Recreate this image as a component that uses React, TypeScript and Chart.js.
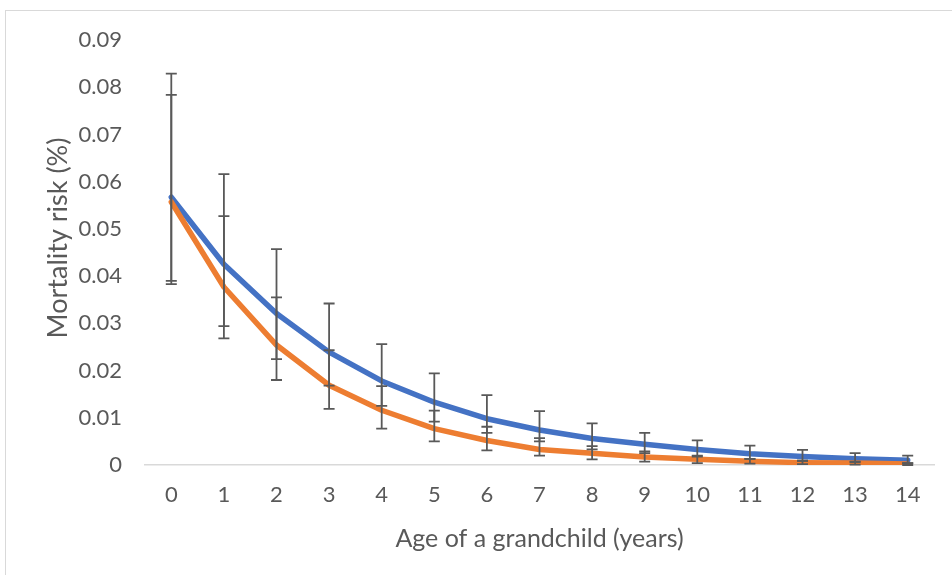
import React, { useEffect, useRef } from "react";
import { Chart, registerables } from "chart.js";

Chart.register(...registerables);

const ages = ["0", "1", "2", "3", "4", "5", "6", "7", "8", "9", "10", "11", "12", "13", "14"];

const blueValues = [0.0567, 0.0425, 0.0321, 0.0239, 0.0178, 0.0133, 0.0098, 0.0074, 0.0056, 0.0044, 0.0033, 0.0024, 0.0018, 0.0013, 0.001];
const blueUpper = [0.0829, 0.0616, 0.0457, 0.0342, 0.0256, 0.0194, 0.0148, 0.0114, 0.0088, 0.0068, 0.0052, 0.0041, 0.0032, 0.0025, 0.002];
const blueLower = [0.039, 0.0294, 0.0224, 0.0168, 0.0125, 0.0092, 0.0068, 0.005, 0.0033, 0.0025, 0.0018, 0.0013, 0.0009, 0.0007, 0.0004];

const orangeValues = [0.0557, 0.0377, 0.0254, 0.0169, 0.0116, 0.0077, 0.0052, 0.0033, 0.0025, 0.0017, 0.0012, 0.0008, 0.0005, 0.0004, 0.0002];
const orangeUpper = [0.0784, 0.0527, 0.0355, 0.0243, 0.0167, 0.0115, 0.0081, 0.0057, 0.004, 0.0029, 0.002, 0.0013, 0.0009, 0.0006, 0.0004];
const orangeLower = [0.0383, 0.0268, 0.018, 0.0119, 0.0077, 0.005, 0.0031, 0.002, 0.0012, 0.0007, 0.0004, 0.0003, 0.0002, 0.0001, 0.0];

const yTicks = [0, 0.01, 0.02, 0.03, 0.04, 0.05, 0.06, 0.07, 0.08, 0.09];

const FONT = "Lato, 'Open Sans', sans-serif";
const TEXT = "#595959";

const errorBarPlugin = {
  id: "errorBars",
  afterDatasetsDraw(chart: any) {
    const { ctx, scales } = chart;
    const x = scales.x;
    const y = scales.y;
    const sets = [
      [blueUpper, blueLower],
      [orangeUpper, orangeLower],
    ];
    ctx.save();
    ctx.strokeStyle = "#595959";
    ctx.lineWidth = 1.8;
    const cap = 5.5;
    sets.forEach(([up, lo]) => {
      ages.forEach((_, i) => {
        const px = x.getPixelForValue(i);
        const yu = y.getPixelForValue(up[i]);
        const yl = y.getPixelForValue(lo[i]);
        ctx.beginPath();
        ctx.moveTo(px, yu);
        ctx.lineTo(px, yl);
        ctx.moveTo(px - cap, yu);
        ctx.lineTo(px + cap, yu);
        ctx.moveTo(px - cap, yl);
        ctx.lineTo(px + cap, yl);
        ctx.stroke();
      });
    });
    ctx.restore();
  },
};

const framePlugin = {
  id: "frame",
  beforeDraw(chart: any) {
    const { ctx } = chart;
    ctx.save();
    ctx.fillStyle = "#ffffff";
    ctx.fillRect(0, 0, chart.width, chart.height);
    ctx.strokeStyle = "#d9d9d9";
    ctx.lineWidth = 1;
    ctx.strokeRect(5.5, 10.5, 2000, 2000);
    ctx.restore();
  },
  afterDraw(chart: any) {
    const { ctx } = chart;
    ctx.save();
    ctx.fillStyle = TEXT;
    ctx.font = `27px ${FONT}`;
    ctx.textAlign = "center";
    ctx.textBaseline = "middle";
    ctx.translate(58, 238);
    ctx.rotate(-Math.PI / 2);
    ctx.fillText("Mortality risk (%)", 0, 0);
    ctx.restore();
  },
};

export default function App() {
  const ref = useRef<HTMLCanvasElement | null>(null);

  useEffect(() => {
    if (!ref.current) return;
    const chart = new Chart(ref.current, {
      type: "line",
      data: {
        labels: ages,
        datasets: [
          {
            label: "Series 1",
            data: blueValues,
            borderColor: "#4472C4",
            backgroundColor: "#4472C4",
            borderWidth: 5.5,
            pointRadius: 0,
            tension: 0,
            order: 1,
            borderCapStyle: "round",
            borderJoinStyle: "round",
          },
          {
            label: "Series 2",
            data: orangeValues,
            borderColor: "#ED7D31",
            backgroundColor: "#ED7D31",
            borderWidth: 5.5,
            pointRadius: 0,
            tension: 0,
            order: 0,
            borderCapStyle: "round",
            borderJoinStyle: "round",
          },
        ],
      },
      options: {
        animation: false,
        responsive: false,
        maintainAspectRatio: false,
        layout: { padding: { left: 0, right: 18, top: 40, bottom: 0 } },
        plugins: {
          legend: { display: false },
          tooltip: { enabled: false },
        },
        scales: {
          x: {
            type: "category",
            offset: true,
            grid: { display: false, drawTicks: false },
            border: { display: true, color: "#d9d9d9", width: 1.5 },
            ticks: {
              color: TEXT,
              font: { family: FONT, size: 22 },
              padding: 17,
              maxRotation: 0,
              autoSkip: false,
            },
            title: {
              display: true,
              text: "Age of a grandchild (years)",
              color: TEXT,
              font: { family: FONT, size: 25 },
              padding: { top: 0, bottom: 21 },
            },
            afterFit(scale: any) {
              scale.height = 110;
            },
          },
          y: {
            min: 0,
            max: 0.09,
            grid: { display: false, drawTicks: false },
            border: { display: false },
            afterBuildTicks(scale: any) {
              scale.ticks = yTicks.map((v) => ({ value: v }));
            },
            ticks: {
              color: TEXT,
              font: { family: FONT, size: 22 },
              padding: 23,
              callback: (v: any) => (Number(v) === 0 ? "0" : Number(v).toFixed(2)),
            },
            afterFit(scale: any) {
              scale.width = 145;
            },
          },
        },
      },
      plugins: [framePlugin, errorBarPlugin],
    });
    return () => chart.destroy();
  }, []);

  return (
    <div style={{ position: "fixed", left: 0, top: 0, width: 952, height: 575, background: "#fff" }}>
      <canvas ref={ref} width={952} height={575} style={{ display: "block", width: 952, height: 575 }} />
    </div>
  );
}
